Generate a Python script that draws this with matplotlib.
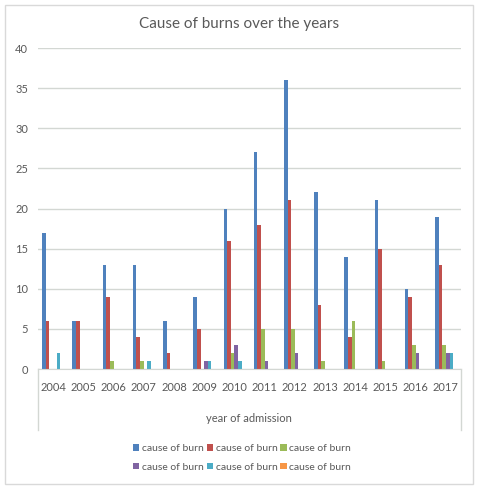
import matplotlib
matplotlib.use("Agg")
import matplotlib.pyplot as plt
from matplotlib.patches import Rectangle
import numpy as np

plt.rcParams['font.family'] = ['Lato', 'DejaVu Sans']

years = ['2004', '2005', '2006', '2007', '2008', '2009', '2010',
         '2011', '2012', '2013', '2014', '2015', '2016', '2017']
series_labels = ['cause of burn'] * 6
blue = [17, 6, 13, 13, 6, 9, 20, 27, 36, 22, 14, 21, 10, 19]
red = [6, 6, 9, 4, 2, 5, 16, 18, 21, 8, 4, 15, 9, 13]
green = [0, 0, 1, 1, 0, 0, 2, 5, 5, 1, 6, 1, 3, 3]
purple = [0, 0, 0, 0, 0, 1, 3, 1, 2, 0, 0, 0, 2, 2]
cyan = [2, 0, 0, 1, 0, 1, 1, 0, 0, 0, 0, 0, 0, 2]
orange = [0, 0, 0, 0, 0, 0, 0, 0, 0, 0, 0, 0, 0, 0]

series = [blue, red, green, purple, cyan, orange]
colors = ['#4F81BD', '#C0504D', '#9BBB59', '#8064A2', '#4BACC6', '#F79646']

fig = plt.figure(figsize=(4.78, 4.90), dpi=100)
ax = fig.add_axes([38/478, 1-369/490, (461-38)/478, (369-48)/490])

x = np.arange(len(years))
w = 0.12
for i, (vals, c) in enumerate(zip(series, colors)):
    ax.bar(x - 0.36 + w*i + w/2, vals, width=w, color=c, label=series_labels[i],
           linewidth=0)

ax.set_xlim(-0.5, len(years) - 0.5)
ax.set_ylim(0, 40)
ax.set_yticks(range(0, 41, 5))
ax.set_xticks(x)
ax.set_xticklabels(years)
ax.grid(axis='y', color='#D3D7D3', linewidth=1)
ax.set_axisbelow(True)
for s in ['top', 'right', 'left']:
    ax.spines[s].set_visible(False)
ax.spines['bottom'].set_color('#D3D7D3')
ax.tick_params(axis='both', length=0, labelsize=8, colors='#595959')
ax.tick_params(axis='x', pad=9)
ax.tick_params(axis='y', pad=7)

# category box lines under the axis
for xx in [-0.5, len(years) - 0.5]:
    ax.plot([xx, xx], [0, -7.6], color='#D3D7D3', lw=1, clip_on=False)

fig.text(249/478, 1-418/490, 'year of admission', ha='center', va='center',
         fontsize=8, color='#595959')
fig.text(239/478, 1-24/490, 'Cause of burns over the years', ha='center',
         va='center', fontsize=11, color='#595959')

handles, labels = ax.get_legend_handles_labels()
order = [0, 3, 1, 4, 2, 5]
fig.legend([handles[i] for i in order], [labels[i] for i in order],
           loc='center', bbox_to_anchor=(242/478, 1-458/490), ncol=3,
           frameon=False, fontsize=7.5, handlelength=0.6, handleheight=0.6,
           handletextpad=0.25, columnspacing=0.3, labelspacing=0.9,
           labelcolor='#595959')

fig.patches.append(Rectangle((5/478, 1-484/490), 468/478, 479/490,
                             transform=fig.transFigure, fill=False,
                             edgecolor='#D9D9D9', lw=1))

fig.savefig('out.png', dpi=100)
